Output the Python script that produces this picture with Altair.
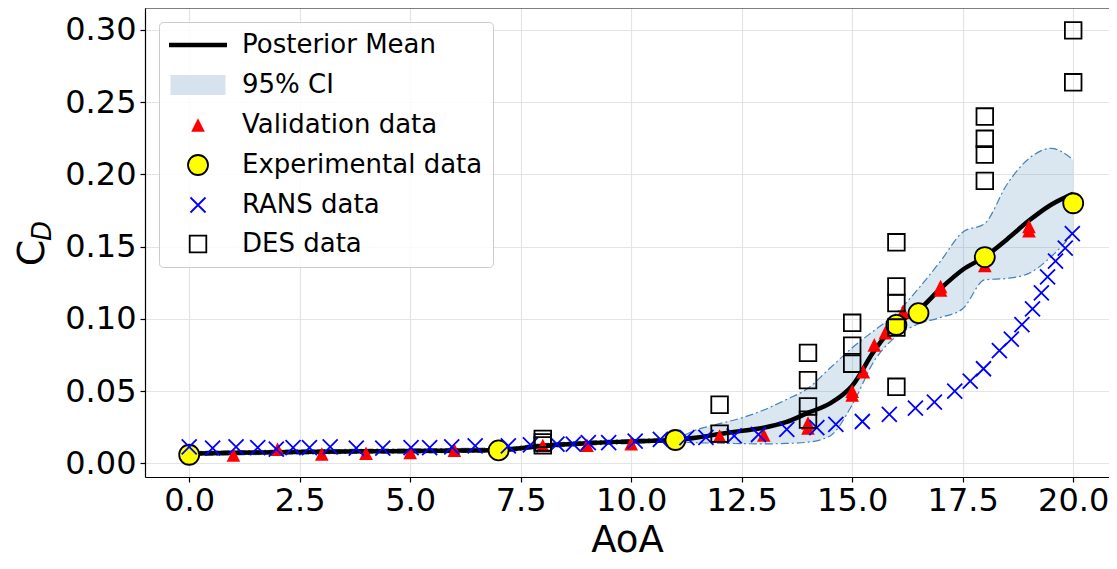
import altair as alt
import pandas as pd

# ---------------- data ----------------
GRID = [0, 1, 2, 3, 4, 5, 6, 7, 8, 9, 10, 11, 11.5, 12, 12.5, 13, 13.5, 14, 14.5,
        15, 15.5, 16, 16.5, 17, 17.5, 18, 18.5, 19, 19.5, 20]
MEAN = [0.0068, 0.0073, 0.0078, 0.0081, 0.0084, 0.0086, 0.0089, 0.0093, 0.0122, 0.0140,
        0.0152, 0.0163, 0.0180, 0.0203, 0.0225, 0.0247, 0.0285, 0.0350, 0.0415,
        0.0537, 0.0780, 0.0965, 0.1060, 0.1210, 0.1340, 0.1430, 0.1550, 0.1680, 0.1790, 0.1865]
UPPER = [0.0082, 0.0087, 0.0092, 0.0095, 0.0098, 0.0100, 0.0103, 0.0107, 0.0136, 0.0154,
         0.0166, 0.0178, 0.0235, 0.0275, 0.0315, 0.0370, 0.0440, 0.0520, 0.0660,
         0.0800, 0.0920, 0.1040, 0.1210, 0.1400, 0.1600, 0.1660, 0.1930, 0.2110, 0.2180, 0.2100]
LOWER = [0.0054, 0.0059, 0.0064, 0.0067, 0.0070, 0.0072, 0.0075, 0.0079, 0.0108, 0.0126,
         0.0138, 0.0149, 0.0143, 0.0140, 0.0137, 0.0135, 0.0138, 0.0147, 0.0190,
         0.0405, 0.0710, 0.0880, 0.0965, 0.1010, 0.1070, 0.1270, 0.1280, 0.1315, 0.1430, 0.1590]

VAL_AOA = [1, 2, 3, 4, 5, 6, 8, 9, 10, 12, 13, 14, 14, 15, 15, 15.25, 15.5, 15.75,
           16.15, 17, 17, 18, 19, 19]
VAL_CD = [0.0058, 0.0099, 0.0065, 0.0070, 0.0076, 0.0092, 0.0124, 0.0126, 0.0137, 0.0190,
          0.0197, 0.0245, 0.0280, 0.0474, 0.0500, 0.0635, 0.0820, 0.0905, 0.1050,
          0.1200, 0.1224, 0.1370, 0.1610, 0.1640]

EXP_AOA = [0, 7, 11, 16, 16.5, 18, 20]
EXP_CD = [0.0060, 0.0090, 0.0162, 0.0958, 0.1040, 0.1428, 0.1800]

RANS_AOA = [0.0, 0.53, 1.06, 1.55, 1.97, 2.35, 2.72, 3.19, 3.78, 4.38, 5.02, 5.44, 5.94,
            6.47, 7.22, 7.72, 8.32, 8.69, 9.03, 9.49, 10.09, 10.66, 11.26, 11.69, 12.33,
            12.88, 13.52, 14.20, 14.63, 15.23, 15.84, 16.43, 16.86, 17.32, 17.67, 17.97,
            18.33, 18.60, 18.84, 19.08, 19.28, 19.42, 19.60, 19.82, 19.98]
RANS_CD = [0.0115, 0.0106, 0.0115, 0.0110, 0.0099, 0.0110, 0.0110, 0.0115, 0.0106, 0.0106,
           0.0110, 0.0110, 0.0115, 0.0121, 0.0121, 0.0128, 0.0133, 0.0133, 0.0144, 0.0144,
           0.0155, 0.0167, 0.0178, 0.0180, 0.0190, 0.0200, 0.0235, 0.0247, 0.0270, 0.0290,
           0.0340, 0.0383, 0.0424, 0.0500, 0.0570, 0.0655, 0.0780, 0.0860, 0.0960, 0.1070,
           0.1180, 0.1290, 0.1400, 0.1490, 0.1590]

DES_AOA = [8, 8, 8, 12, 12, 14, 14, 14, 14, 15, 15, 15, 16, 16, 16, 16, 16, 18, 18, 18, 18, 20, 20]
DES_CD = [0.0125, 0.0145, 0.0170, 0.0206, 0.0406, 0.0303, 0.0394, 0.0576, 0.0765, 0.0690,
          0.0815, 0.0973, 0.0530, 0.0940, 0.1110, 0.1224, 0.1530, 0.1955, 0.2137, 0.2246,
          0.2400, 0.2637, 0.2996]

SERIES = ["Posterior Mean", "95% CI", "Validation data", "Experimental data", "RANS data", "DES data"]
X_TICKS = [0, 2.5, 5, 7.5, 10, 12.5, 15, 17.5, 20]
Y_TICKS = [0, 0.05, 0.10, 0.15, 0.20, 0.25, 0.30]

# ---------------- styling ----------------
W, H = 964, 469
XDOM = [-1.0, 20.81]
YDOM = [-0.0094, 0.3151]
FONT = "DejaVu Sans"

SHAPES = [
    "M-2.9,-0.22H2.9V0.22H-2.9Z",          # line symbol
    "M-2.75,-1H2.75V1H-2.75Z",             # CI patch
    "M0,-0.68L0.68,0.68L-0.68,0.68Z",      # triangle up
    "circle",
    "M-0.75,-0.75L0.75,0.75M-0.75,0.75L0.75,-0.75",  # x
    "M-0.83,-0.83H0.83V0.83H-0.83Z",       # square
]
FILLS = ["black", "#d6e3ee", "red", "yellow", "transparent", "transparent"]
STROKES = ["transparent", "transparent", "transparent", "black", "blue", "black"]

curve = pd.DataFrame({"AoA": GRID, "mean": MEAN, "upper": UPPER, "lower": LOWER})
pts = pd.concat([
    pd.DataFrame({"AoA": VAL_AOA, "CD": VAL_CD, "series": "Validation data"}),
    pd.DataFrame({"AoA": EXP_AOA, "CD": EXP_CD, "series": "Experimental data"}),
    pd.DataFrame({"AoA": RANS_AOA, "CD": RANS_CD, "series": "RANS data"}),
    pd.DataFrame({"AoA": DES_AOA, "CD": DES_CD, "series": "DES data"}),
], ignore_index=True)

xscale = alt.Scale(domain=XDOM, nice=False, zero=False)
yscale = alt.Scale(domain=YDOM, nice=False, zero=False)
xaxis = alt.Axis(values=X_TICKS, format=".1f", title="AoA", titlePadding=6, labelPadding=3,
                 labelFlush=False, labelOverlap=False)
yaxis = alt.Axis(values=Y_TICKS, format=".2f", title=None,
                 labelFlush=False, labelOverlap=False)


def X(field="AoA"):
    return alt.X(f"{field}:Q", scale=xscale, axis=xaxis)


def Y(field):
    return alt.Y(f"{field}:Q", scale=yscale, axis=yaxis)


LEG = alt.Legend(title=None, orient="none", legendX=14, legendY=14, padding=10,
                 rowPadding=13, labelFontSize=26, labelFont=FONT, labelColor="black",
                 symbolOffset=16, labelOffset=31, symbolSize=400, symbolStrokeWidth=1.8,
                 fillColor="rgba(255,255,255,0.8)", strokeColor="#cccccc",
                 cornerRadius=4, labelLimit=500)

band = alt.Chart(curve).mark_area(color="#4682b4", opacity=0.2, interpolate="monotone").encode(
    x=X(), y=Y("lower"), y2=alt.Y2("upper:Q"))
edge_u = alt.Chart(curve).mark_line(color="#4682b4", strokeWidth=1.2, strokeDash=[8, 3, 2, 3],
                                    interpolate="monotone").encode(x=X(), y=Y("upper"))
edge_l = alt.Chart(curve).mark_line(color="#4682b4", strokeWidth=1.2, strokeDash=[8, 3, 2, 3],
                                    interpolate="monotone").encode(x=X(), y=Y("lower"))
mean_line = alt.Chart(curve).mark_line(color="black", strokeWidth=4.5,
                                       interpolate="monotone").encode(x=X(), y=Y("mean"))

points = alt.Chart(pts).mark_point(filled=True, opacity=1, size=400, strokeWidth=1.8).encode(
    x=X(), y=Y("CD"),
    shape=alt.Shape("series:N", scale=alt.Scale(domain=SERIES, range=SHAPES), legend=LEG),
    fill=alt.Fill("series:N", scale=alt.Scale(domain=SERIES, range=FILLS), legend=LEG),
    stroke=alt.Stroke("series:N", scale=alt.Scale(domain=SERIES, range=STROKES), legend=LEG),
)

one = alt.Data(values=[{"k": 1}])
top_border = alt.Chart(one).mark_rule(color="black", strokeWidth=1.2).encode(
    x=alt.value(0), x2=alt.value(W), y=alt.value(0))
ytitle_c = alt.Chart(one).mark_text(text="C", font=FONT, fontSize=38, angle=270,
                                    align="center", baseline="alphabetic", color="black").encode(
    x=alt.value(-101), y=alt.value(245))
ytitle_d = alt.Chart(one).mark_text(text="D", font=FONT, fontSize=26, fontStyle="italic", angle=270,
                                    align="center", baseline="alphabetic", color="black").encode(
    x=alt.value(-94), y=alt.value(223))

chart = alt.layer(band, edge_u, edge_l, mean_line, points, top_border, ytitle_c, ytitle_d).properties(
    width=W, height=H,
    padding={"left": 137, "top": 0, "right": 0, "bottom": 84},
    autosize=alt.AutoSizeParams(type="none"),
).configure_view(stroke=None).configure_axis(
    labelFont=FONT, labelFontSize=32, labelColor="black", labelPadding=4,
    tickColor="black", tickSize=5, tickWidth=1.2,
    domainColor="black", domainWidth=1.2,
    gridColor="#e4e4e4", gridWidth=1.2,
    titleFont=FONT, titleFontSize=37, titleFontWeight="normal", titleColor="black",
)

chart.save("out.html", embed_options={"renderer": "svg", "actions": False})
